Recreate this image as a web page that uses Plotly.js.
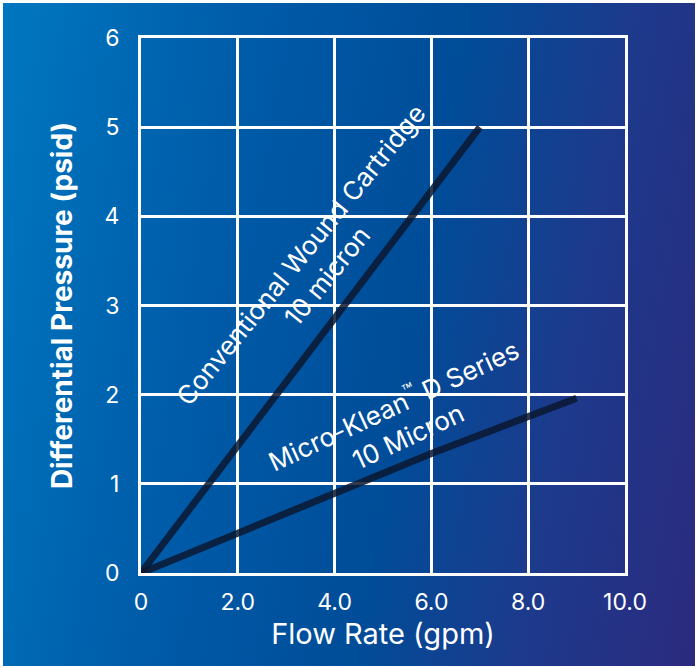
<!DOCTYPE html>
<html><head><meta charset="utf-8">
<script src="https://cdn.plot.ly/plotly-3.0.1.min.js"></script>
<style>
html,body{margin:0;padding:0;background:#fff;}
#wrap{position:absolute;left:3px;top:3px;width:692px;height:663px;
background:linear-gradient(100deg,#0077c0 0%,#005ca9 30%,#004c98 58%,#1d3a8c 78%,#2b2a7e 100%);}
#chart{position:absolute;left:0;top:0;width:697px;height:668px;}
</style></head><body>
<div id="wrap"></div><div id="chart"></div>
<script>
const flowConventional = [0, 7.0];
const dpConventional = [0, 5.0];
const flowMicroKlean = [0, 2.0, 4.0, 6.0, 9.0];
const dpMicroKlean = [0, 0.45, 0.9, 1.34, 1.96];
const xTickVals = [0, 2, 4, 6, 8, 10];
const xTickText = ["0", "2.0", "4.0", "6.0", "8.0", "10.0"];
const yTickVals = [0, 1, 2, 3, 4, 5, 6];

const font = "Inter, 'Open Sans', sans-serif";
const lineStyle = {color: "#0b1730", width: 7};
const traces = [
  {x: flowConventional, y: dpConventional, mode: "lines", line: lineStyle, opacity: 0.85, hoverinfo: "skip"},
  {x: flowMicroKlean, y: dpMicroKlean, mode: "lines", line: lineStyle, opacity: 0.85, hoverinfo: "skip"}
];
const layout = {
  width: 697, height: 668,
  paper_bgcolor: "rgba(0,0,0,0)", plot_bgcolor: "rgba(0,0,0,0)",
  showlegend: false,
  margin: {l: 141, r: 72, t: 38, b: 95},
  font: {family: font, color: "#ffffff", size: 22},
  xaxis: {range: [0, 10], tickvals: xTickVals, ticktext: xTickText,
    showgrid: true, gridcolor: "#ffffff", gridwidth: 3, zeroline: false,
    showline: true, linecolor: "#ffffff", linewidth: 3, mirror: true,
    ticks: "", ticklabelstandoff: 6, tickfont: {size: 23, color: "#fff", family: font},
    title: {text: "Flow Rate (gpm)", font: {size: 29, color: "#fff", family: font}, standoff: 5}},
  yaxis: {range: [0, 6], tickvals: yTickVals,
    showgrid: true, gridcolor: "#ffffff", gridwidth: 3, zeroline: false,
    showline: true, linecolor: "#ffffff", linewidth: 3, mirror: true,
    ticks: "", ticklabelstandoff: 14, tickfont: {size: 23, color: "#fff", family: font},
    title: {text: "<b>Differential Pressure (psid)</b>", font: {size: 28, color: "#fff", family: font}, standoff: 24}},
  annotations: [
    {x: 3.57, y: 3.45, xref: "x", yref: "y", text: "Conventional Wound Cartridge<br>10 micron",
     showarrow: false, textangle: -51, font: {size: 26, color: "#fff", family: font}, align: "center"},
    {x: 5.35, y: 1.72, xref: "x", yref: "y", text: "Micro-Klean<sup>™</sup> D Series<br>10 Micron",
     showarrow: false, textangle: -25, font: {size: 26, color: "#fff", family: font}, align: "center"}
  ]
};
Plotly.newPlot("chart", traces, layout, {staticPlot: true});
</script></body></html>
